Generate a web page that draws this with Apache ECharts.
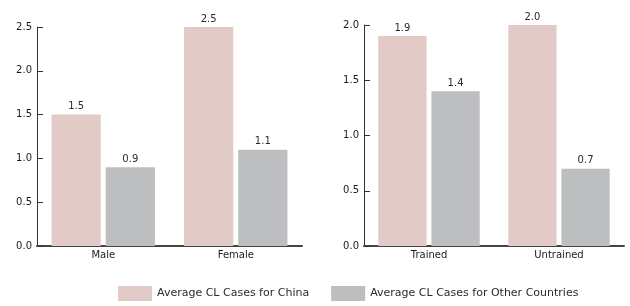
<!DOCTYPE html>
<html>
<head>
<meta charset="utf-8">
<script src="https://cdn.jsdelivr.net/npm/echarts@6/dist/echarts.min.js"></script>
<style>
    html, body { margin: 0; padding: 0; background: #fff; }
    #chart { width: 630px; height: 306px; }
</style>
</head>
<body>
<div id="chart"></div>
<script>
    // data
    const sexCategories = ['Male', 'Female'];
    const sexChina = [1.5, 2.5];
    const sexOther = [0.9, 1.1];

    const trainCategories = ['Trained', 'Untrained'];
    const trainChina = [1.9, 2.0];
    const trainOther = [1.4, 0.7];

    const seriesNames = ['Average CL Cases for China', 'Average CL Cases for Other Countries'];

    const pink = '#e2cbc6';
    const grey = '#bdbec0';
    const font = 'DejaVu Sans';

    let myChart = echarts.init(document.getElementById('chart'), null, { renderer: 'canvas' });

    function xAxisOf(idx, cats) {
        return {
            type: 'category',
            gridIndex: idx,
            data: cats,
            axisLine: { lineStyle: { color: '#444', width: 2 } },
            axisTick: { inside: true, length: 6, lineStyle: { color: '#333' } },
            axisLabel: { color: '#1a1a1a', fontFamily: font, fontSize: 10, margin: 4 },
            splitLine: { show: false }
        }
    }

    function yAxisOf(idx, max) {
        return {
            type: 'value',
            gridIndex: idx,
            min: 0,
            max: max,
            interval: 0.5,
            axisLine: { show: true, lineStyle: { color: '#333', width: 1 } },
            axisTick: { show: true, inside: true, length: 6, lineStyle: { color: '#333' } },
            axisLabel: {
                color: '#1a1a1a', fontFamily: font, fontSize: 10, margin: 5,
                formatter: v => v.toFixed(1)
            },
            splitLine: { show: false }
        }
    }

    function barOf(name, idx, data, color) {
        return {
            name: name,
            type: 'bar',
            xAxisIndex: idx,
            yAxisIndex: idx,
            data: data,
            barGap: '10%',
            barCategoryGap: '22%',
            itemStyle: { color: color },
            label: {
                show: true,
                position: 'top',
                distance: 3,
                color: '#2a2a2a',
                fontFamily: font,
                fontSize: 10,
                formatter: p => p.value.toFixed(1)
            }
        }
    }

    myChart.setOption({
        animation: false,
        backgroundColor: '#fff',
        legend: {
            data: seriesNames,
            icon: 'rect',
            left: 118,
            bottom: 5,
            padding: 0,
            itemWidth: 34,
            itemHeight: 15,
            itemGap: 22,
            textStyle: { color: '#2a2a2a', fontFamily: font, fontSize: 11 }
        },
        grid: [
            { left: 37, right: 328, top: 27, bottom: 60 },
            { left: 364, right: 6, top: 25, bottom: 60 }
        ],
        xAxis: [xAxisOf(0, sexCategories), xAxisOf(1, trainCategories)],
        yAxis: [yAxisOf(0, 2.5), yAxisOf(1, 2.0)],
        series: [
            barOf(seriesNames[0], 0, sexChina, pink),
            barOf(seriesNames[1], 0, sexOther, grey),
            barOf(seriesNames[0], 1, trainChina, pink),
            barOf(seriesNames[1], 1, trainOther, grey)
        ]
    })
</script>
</body>
</html>
